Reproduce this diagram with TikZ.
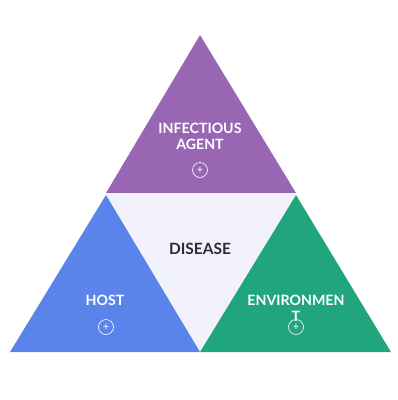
\documentclass[tikz,border=0pt]{standalone}
\usepackage{fontspec}
\setmainfont{Lato}
\usepackage{tikz}

\definecolor{agentpurple}{HTML}{9966B4}
\definecolor{hostblue}{HTML}{5B84EB}
\definecolor{envgreen}{HTML}{21A57D}
\definecolor{diseasebg}{HTML}{F2F2FC}
\definecolor{diseasetext}{HTML}{2B2B33}

\tikzset{
  lbl/.style={text=white, font=\fontsize{14.2}{16}\selectfont\bfseries, align=center, inner sep=0pt},
  plusmark/.style={draw=white, circle, minimum size=15pt, inner sep=0pt, line width=0.6pt, text=white, font=\fontsize{11}{11}\selectfont}
}

\begin{document}
\begin{tikzpicture}[x=1pt,y=-1pt]
        \useasboundingbox (0,0) rectangle (398,400);

        % triangulos
        \fill[diseasebg] (106,194) -- (296,194) -- (200,352) -- cycle;
        \fill[agentpurple] (200,35) -- (296,193) -- (106,193) -- cycle;
        \fill[hostblue] (106,195) -- (200,352) -- (10,352) -- cycle;
        \fill[envgreen] (296,195) -- (391,352) -- (200,352) -- cycle;

        % textos
        \node[lbl] (agent) at (200,136) {INFECTIOUS\\AGENT};
        \node[plusmark] (agentplus) at (200,170) {+};

        \node[lbl, text=diseasetext, font=\fontsize{15.5}{17}\selectfont\bfseries] (disease) at (200,249) {DISEASE};

        \node[lbl] (host) at (105,300) {HOST};
        \node[plusmark] (hostplus) at (106,327) {+};

        \node[lbl] (env) at (296,308) {ENVIRONMEN\\T};
        \node[plusmark] (envplus) at (296,327) {+};
    \end{tikzpicture}
\end{document}
